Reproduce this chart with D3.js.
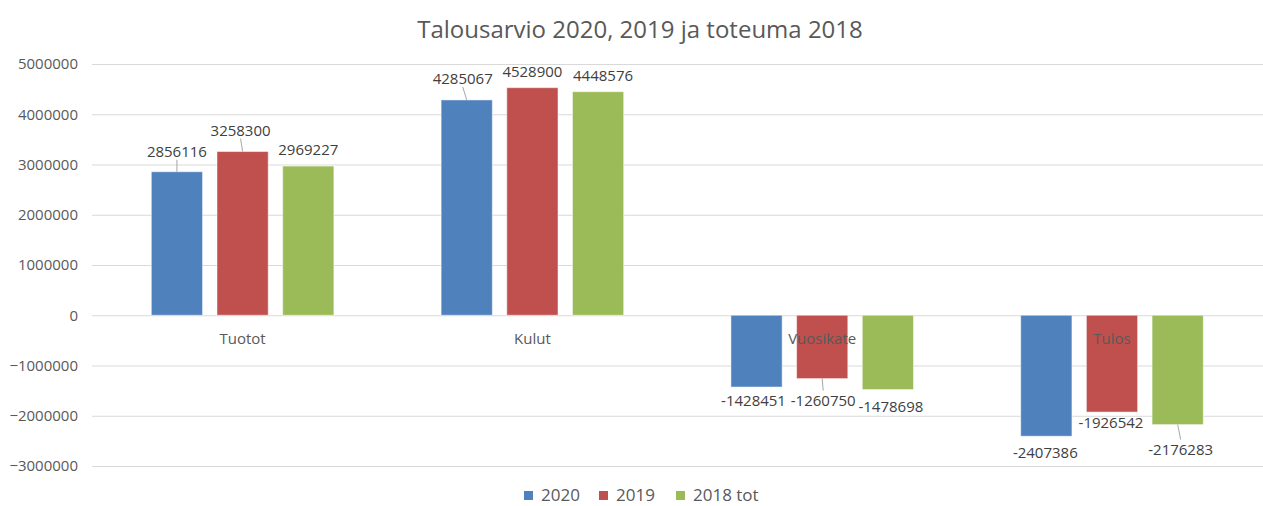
<!DOCTYPE html>
<html>
<head>
<meta charset="utf-8">
<script src="https://cdnjs.cloudflare.com/ajax/libs/d3/7.8.5/d3.min.js"></script>
<style>
  body { margin: 0; background: #fff; }
  svg { display: block; font-family: "Open Sans", sans-serif; }
</style>
</head>
<body>
<svg id="chart" width="1263" height="506"></svg>
<script>
// ---- data ----
var categories = ["Tuotot", "Kulut", "Vuosikate", "Tulos"];
var seriesNames = ["2020", "2019", "2018 tot"];
var values2020 = [2856116, 4285067, -1428451, -2407386];
var values2019 = [3258300, 4528900, -1260750, -1926542];
var values2018 = [2969227, 4448576, -1478698, -2176283];
var yTicks = [-3000000, -2000000, -1000000, 0, 1000000, 2000000, 3000000, 4000000, 5000000];

// label nudges (px) as they were dragged in the original, [dx, dy] per series per category
var labelNudge = [
  [[0, -21], [-4, -22], [-3, 13], [-1, 16]],
  [[-2, -22], [0, -17], [1, 21], [-1, 10]],
  [[0, -17], [5, -17], [3, 16], [3, 24]]
];

var colors = ["#4f81bd", "#c0504d", "#9bbb59"];
var seriesValues = [values2020, values2019, values2018];

var svg = d3.select("#chart");
var textColor = "#595959";

var x0 = d3.scaleBand().domain(categories).range([97.7, 1256.9]).paddingInner(0.37).paddingOuter(0.185);
var x1 = d3.scaleBand().domain(d3.range(3)).range([0, x0.bandwidth()]).paddingInner(0.22);
var y = d3.scaleLinear().domain([-3000000, 5000000]).range([466, 64]);

// title
svg.append("text")
  .attr("x", 640).attr("y", 28)
  .attr("text-anchor", "middle").attr("dominant-baseline", "central")
  .attr("font-size", 24).attr("fill", textColor)
  .text("Talousarvio 2020, 2019 ja toteuma 2018");

// y axis + gridlines
var yAxis = svg.append("g")
  .attr("transform", "translate(92,0)")
  .call(d3.axisLeft(y).tickValues(yTicks).tickSize(-(1263 - 92)).tickPadding(14).tickFormat(d3.format("d")));
yAxis.select(".domain").remove();
yAxis.selectAll("line").attr("stroke", "#d9d9d9");
yAxis.selectAll("text").attr("fill", textColor).attr("font-size", 15).attr("font-family", "Open Sans, sans-serif");

// bars
var rows = [];
seriesValues.forEach(function (vals, s) {
  vals.forEach(function (v, c) {
    rows.push({ s: s, c: c, v: v });
  });
});

svg.append("g").selectAll("rect")
  .data(rows)
  .join("rect")
  .attr("x", d => x0(categories[d.c]) + x1(d.s))
  .attr("width", x1.bandwidth())
  .attr("y", d => Math.min(y(d.v), y(0)))
  .attr("height", d => Math.abs(y(d.v) - y(0)))
  .attr("fill", d => colors[d.s])
  .attr("stroke", "#fff").attr("stroke-opacity", 0.5);

// category labels
svg.append("g").selectAll("text")
  .data(categories)
  .join("text")
  .attr("x", d => x0(d) + x0.bandwidth() / 2)
  .attr("y", y(0) + 23)
  .attr("text-anchor", "middle").attr("dominant-baseline", "central")
  .attr("font-size", 15).attr("fill", textColor)
  .text(d => d);

// data labels + leader lines
var lab = svg.append("g");
rows.forEach(function (d) {
  var cx = x0(categories[d.c]) + x1(d.s) + x1.bandwidth() / 2;
  var end = y(d.v);
  var n = labelNudge[d.s][d.c];
  var lx = cx + n[0], ly = end + n[1];
  if (Math.abs(n[1]) > 19) {
    var dir = n[1] < 0 ? -1 : 1;
    lab.append("line")
      .attr("x1", cx).attr("y1", end)
      .attr("x2", lx).attr("y2", ly - dir * 9)
      .attr("stroke", "#a6a6a6").attr("stroke-width", 1);
  }
  lab.append("text")
    .attr("x", lx).attr("y", ly)
    .attr("text-anchor", "middle").attr("dominant-baseline", "central")
    .attr("font-size", 15).attr("fill", "#404040")
    .text(d.v);
});

// legend
var legendX = [524, 599, 676];
var leg = svg.append("g");
seriesNames.forEach(function (name, i) {
  leg.append("rect")
    .attr("x", legendX[i]).attr("y", 491).attr("width", 9).attr("height", 9)
    .attr("fill", colors[i]);
  leg.append("text")
    .attr("x", legendX[i] + 17).attr("y", 494)
    .attr("dominant-baseline", "central")
    .attr("font-size", 17).attr("fill", textColor)
    .text(name);
});
</script>
</body>
</html>
